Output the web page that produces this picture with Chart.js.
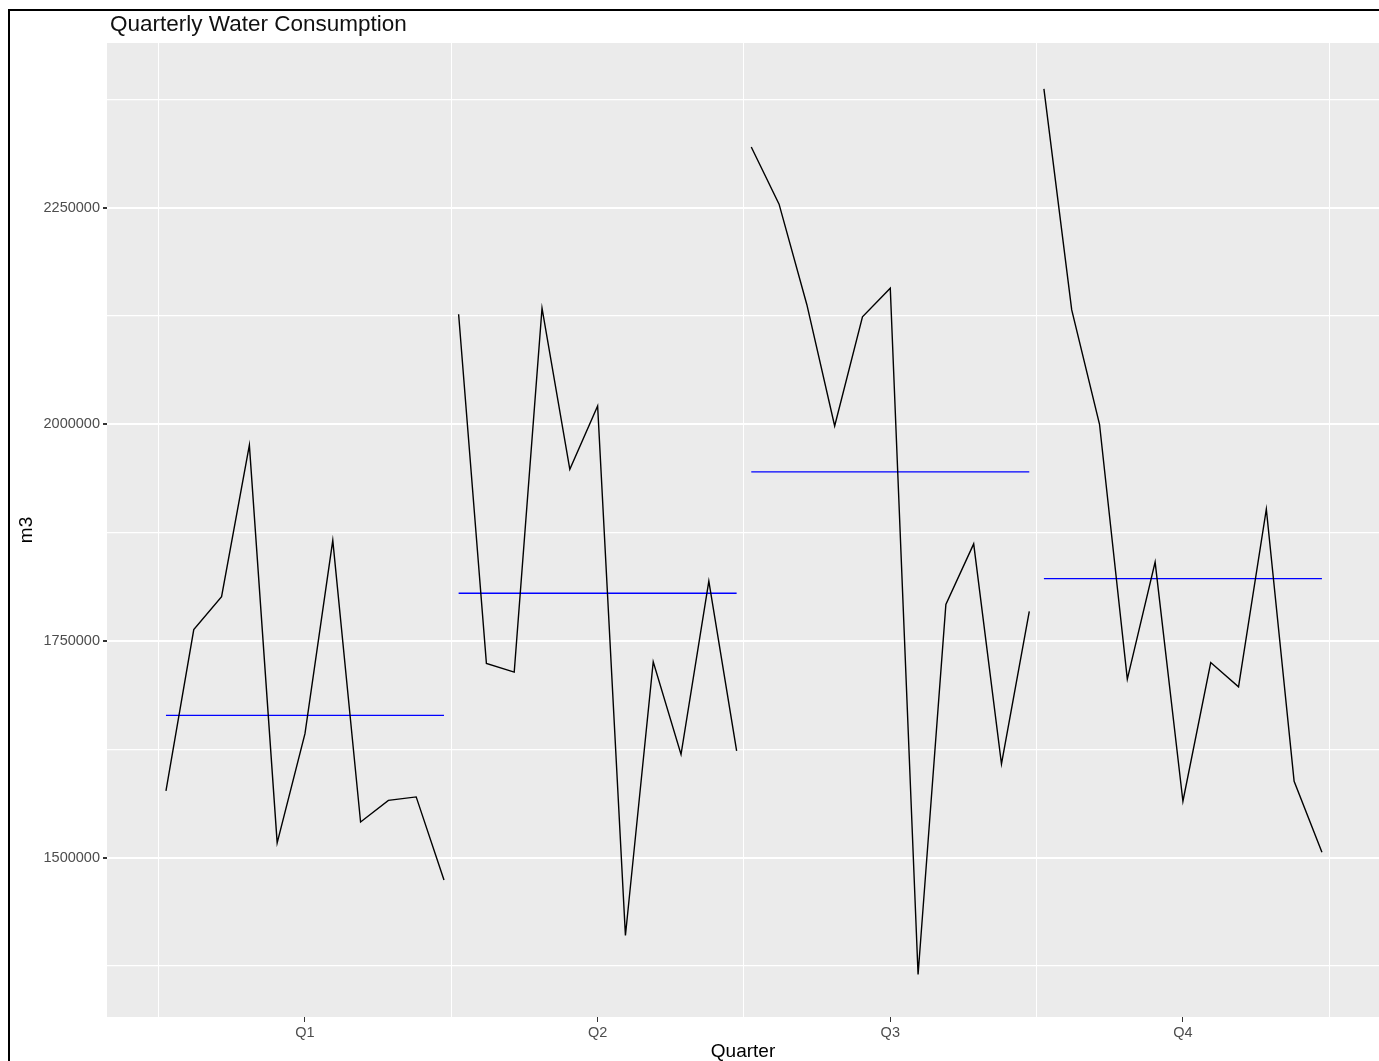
<!DOCTYPE html>
<html>
<head>
<meta charset="utf-8">
<script src="https://cdn.jsdelivr.net/npm/chart.js@4.4.1/dist/chart.umd.min.js"></script>
<style>
  html, body { margin: 0; padding: 0; background: #fff; overflow: hidden; }
  #frame { position: absolute; left: 8px; top: 9px; width: 1400px; height: 1100px;
           border-left: 2px solid #000; border-top: 2px solid #000; }
  #title { position: absolute; left: 110px; top: 11px; font: 22.5px "Liberation Sans", Arial, sans-serif;
           color: #111; white-space: nowrap; }
  #chart { position: absolute; left: 0; top: 0; }
</style>
</head>
<body>
<div id="frame"></div>
<canvas id="chart" width="1379" height="1061"></canvas>
<div id="title">Quarterly Water Consumption</div>
<script>
// values (m3), one per year within each quarter
const quarters = ['Q1', 'Q2', 'Q3', 'Q4'];
const q1Values = [1577000, 1763000, 1801000, 1976000, 1517000, 1643000, 1866000, 1541000, 1566000, 1570000, 1474000];
const q2Values = [2127000, 1724000, 1714000, 2134000, 1948000, 2021000, 1410000, 1726000, 1619000, 1819000, 1623000];
const q3Values = [2320000, 2254000, 2138000, 1998000, 2124000, 2157000, 1365000, 1792000, 1862000, 1608000, 1784000];
const q4Values = [2387000, 2132000, 2000000, 1706000, 1841000, 1565000, 1725000, 1697000, 1902000, 1588000, 1506000];
const quarterMeans = [1664000, 1805000, 1945000, 1822000];

const yTickValues = [1375000, 1500000, 1625000, 1750000, 1875000, 2000000, 2125000, 2250000, 2375000];
const yTickLabels = ['', '1500000', '', '1750000', '', '2000000', '', '2250000', ''];
const xTickValues = [0.5, 1, 1.5, 2, 2.5, 3, 3.5, 4, 4.5];

const seriesByQuarter = [q1Values, q2Values, q3Values, q4Values];
const SPREAD = 0.095; // horizontal step between years inside one quarter

function subseries(values, q) {
  const mid = (values.length - 1) / 2;
  return values.map((v, i) => ({ x: q + (i - mid) * SPREAD, y: v }));
}

const datasets = [];
seriesByQuarter.forEach((vals, k) => {
  const q = k + 1;
  datasets.push({
    data: subseries(vals, q),
    borderColor: '#000',
    borderWidth: 1.4,
    pointRadius: 0,
    tension: 0
  });
  const half = (vals.length - 1) / 2 * SPREAD;
  datasets.push({
    data: [{ x: q - half, y: quarterMeans[k] }, { x: q + half, y: quarterMeans[k] }],
    borderColor: '#0000ff',
    borderWidth: 1.3,
    pointRadius: 0
  });
});

const panelBg = {
  id: 'panelBg',
  beforeDraw(chart) {
    const { ctx, chartArea: a } = chart;
    ctx.save();
    ctx.fillStyle = '#ebebeb';
    ctx.fillRect(a.left, a.top, a.right - a.left, a.bottom - a.top);
    ctx.restore();
  }
};

const tickFont = { family: '"Liberation Sans", Arial, sans-serif', size: 14.5 };

new Chart(document.getElementById('chart'), {
  type: 'line',
  data: { datasets },
  plugins: [panelBg],
  options: {
    responsive: false,
    animation: false,
    layout: { padding: { top: 43, left: 0, right: 0, bottom: 0 } },
    plugins: { legend: { display: false }, tooltip: { enabled: false } },
    scales: {
      x: {
        type: 'linear',
        min: 0.3235,
        max: 4.67,
        afterBuildTicks(scale) { scale.ticks = xTickValues.map(v => ({ value: v })); },
        afterFit(scale) { scale.height = 44; },
        ticks: {
          autoSkip: false,
          maxRotation: 0,
          padding: 2,
          color: '#4d4d4d',
          font: tickFont,
          callback: v => Number.isInteger(v) ? quarters[v - 1] : ''
        },
        grid: {
          color: c => (c.tick && Number.isInteger(c.tick.value)) ? 'rgba(255,255,255,0)' : '#ffffff',
          lineWidth: 1,
          tickColor: c => (c.tick && Number.isInteger(c.tick.value)) ? '#333333' : 'rgba(0,0,0,0)',
          tickLength: 5
        },
        border: { display: false },
        title: {
          display: true,
          text: 'Quarter',
          color: '#000',
          font: { family: '"Liberation Sans", Arial, sans-serif', size: 19, lineHeight: 1 },
          padding: { top: 0, bottom: 0 }
        }
      },
      y: {
        min: 1316000,
        max: 2440000,
        afterBuildTicks(scale) { scale.ticks = yTickValues.map(v => ({ value: v })); },
        afterFit(scale) { scale.width = 107; },
        ticks: {
          autoSkip: false,
          padding: 3,
          color: '#4d4d4d',
          font: tickFont,
          callback: (v, i) => yTickLabels[i]
        },
        grid: {
          color: '#ffffff',
          lineWidth: c => (c.tick && c.tick.value % 250000 === 0) ? 2 : 1.2,
          tickColor: c => (c.tick && c.tick.value % 250000 === 0) ? '#333333' : 'rgba(0,0,0,0)',
          tickLength: 4
        },
        border: { display: false },
        title: {
          display: true,
          text: 'm3',
          color: '#000',
          font: { family: '"Liberation Sans", Arial, sans-serif', size: 19, lineHeight: 1 },
          padding: { top: 17, bottom: 0 }
        }
      }
    }
  }
});
</script>
</body>
</html>
